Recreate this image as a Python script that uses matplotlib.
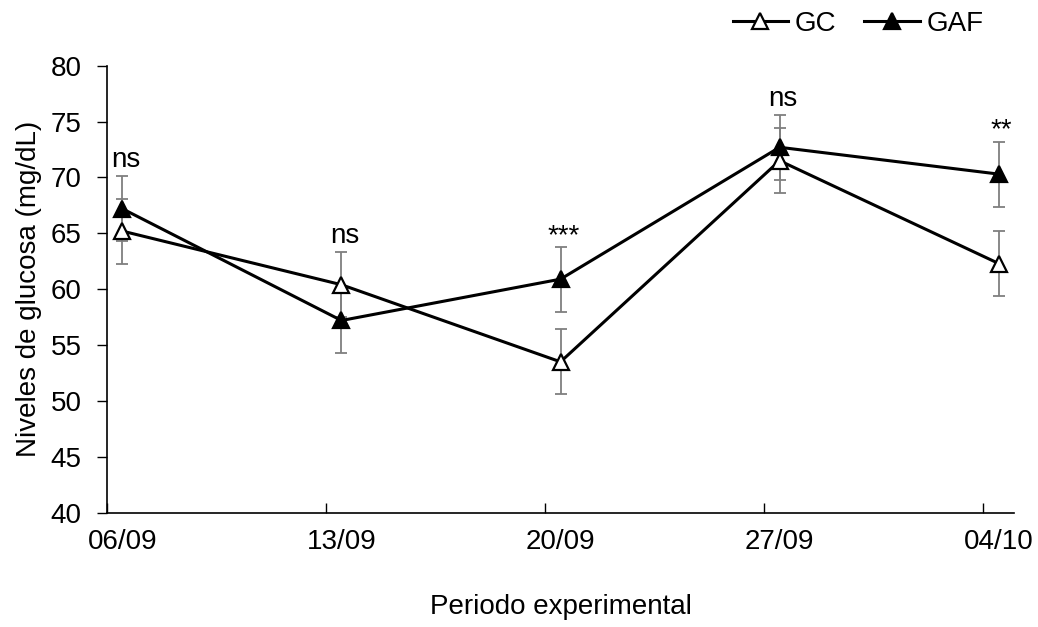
import matplotlib
matplotlib.use("Agg")
import matplotlib.pyplot as plt
import numpy as np

# data
fechas = ["06/09", "13/09", "20/09", "27/09", "04/10"]
dias = [0, 7, 14, 21, 28]          # days since 06/09
gc_media = [65.2, 60.4, 53.5, 71.5, 62.3]
gaf_media = [67.2, 57.2, 60.9, 72.7, 70.3]
gc_err = [2.9, 2.9, 2.9, 2.9, 2.9]
gaf_err = [2.9, 2.9, 2.9, 2.9, 2.9]
signif = ["ns", "ns", "***", "ns", "**"]

plt.rcParams['font.family'] = ['Liberation Sans', 'DejaVu Sans']
fs = 20

fig = plt.figure(figsize=(10.38, 6.27), dpi=100)
ax = fig.add_axes([0.1028, 0.1823, 0.8744, 0.7129])

# points sit in the middle of each day (Excel date axis)
x = np.array(dias) + 0.5

ax.errorbar(x, gc_media, yerr=gc_err, fmt='none', ecolor='#7f7f7f',
            elinewidth=1.3, capsize=4.5, capthick=1.3, zorder=1)
ax.errorbar(x, gaf_media, yerr=gaf_err, fmt='none', ecolor='#7f7f7f',
            elinewidth=1.3, capsize=4.5, capthick=1.3, zorder=1)
ax.plot(x, gc_media, color='black', lw=2.2, marker='^', markersize=11.5,
        markerfacecolor='white', markeredgecolor='black', markeredgewidth=1.6,
        label='GC', zorder=3)
ax.plot(x, gaf_media, color='black', lw=2.2, marker='^', markersize=11.5,
        markerfacecolor='black', markeredgecolor='black', markeredgewidth=1.6,
        label='GAF', zorder=4)

# significance labels above the highest error bar
for xi, a, ea, b, eb, s in zip(x, gc_media, gc_err, gaf_media, gaf_err, signif):
    top = max(a + ea, b + eb)
    dy = 4 if '*' in s else 9
    ax.annotate(s, (xi, top), xytext=(3, dy), textcoords='offset pixels',
                ha='center', va='baseline', fontsize=fs)

ax.set_xlim(0, 29)
ax.set_ylim(40, 80)
ax.set_yticks(np.arange(40, 81, 5))
ax.set_xticks(dias)
ax.set_xticklabels([])
ax.set_xticks(x, minor=True)
ax.set_xticklabels(fechas, minor=True)
ax.tick_params(axis='x', which='major', direction='in', length=7, width=1)
ax.tick_params(axis='x', which='minor', length=0, pad=12, labelsize=fs)
ax.tick_params(axis='y', direction='out', length=7, width=1, labelsize=fs, pad=11)

for side in ['top', 'right']:
    ax.spines[side].set_visible(False)
for side in ['left', 'bottom']:
    ax.spines[side].set_linewidth(1.2)

ax.set_ylabel('Niveles de glucosa (mg/dL)', fontsize=fs, labelpad=6)
ax.set_xlabel('Periodo experimental', fontsize=fs, labelpad=28)

fig.legend(loc='center right', bbox_to_anchor=(0.972, 0.962), ncol=2,
           frameon=False, fontsize=fs, handlelength=2.0, handletextpad=0.25,
           columnspacing=1.0)

fig.savefig('out.png', dpi=100)
